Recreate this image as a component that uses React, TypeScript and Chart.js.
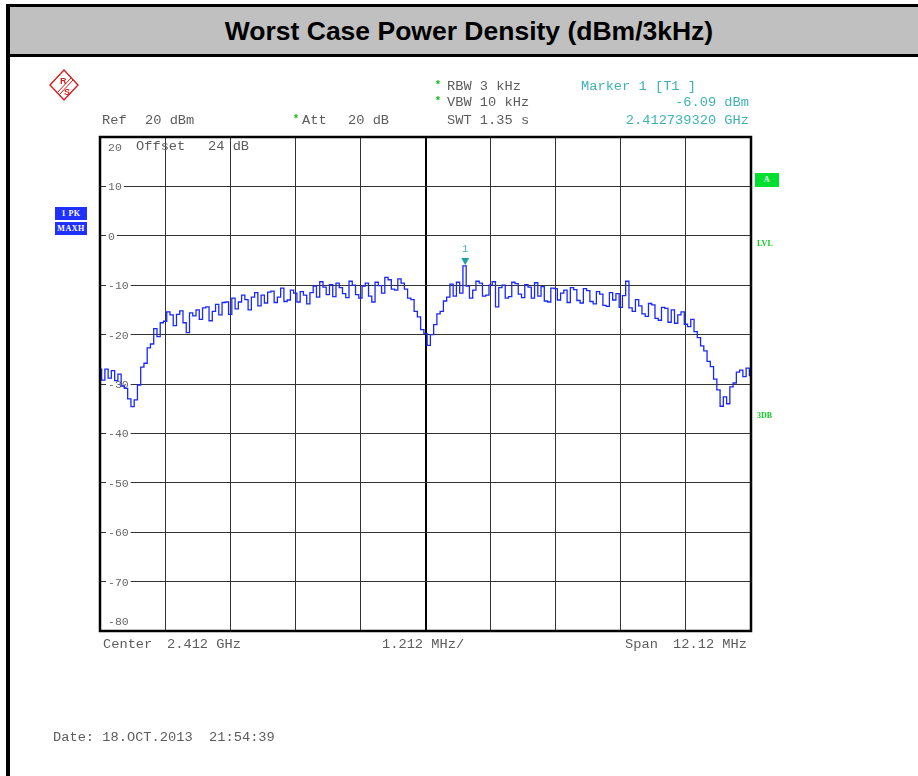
import React, { useEffect, useRef } from "react";
import { Chart, registerables } from "chart.js";

Chart.register(...registerables);

// ---- Data -------------------------------------------------------------
const FREQ_START_MHZ = 2405.94;
const FREQ_STOP_MHZ = 2418.06;
const xGridFreqs = [2405.94, 2407.152, 2408.364, 2409.576, 2410.788, 2412.0, 2413.212, 2414.424, 2415.636, 2416.848, 2418.06];
const CENTER_FREQ_MHZ = 2412.0;
const yTickValues = [20, 10, 0, -10, -20, -30, -40, -50, -60, -70, -80];
const yTickLabels = ["20", "10", "0", "-10", "-20", "-30", "-40", "-50", "-60", "-70", "-80"];
const traceLevels = [
  -27.0, -29.2, -27.0, -28.8, -27.3, -29.3, -28.0, -30.4, -30.9, -33.0,
  -34.6, -33.2, -30.2, -26.6, -25.8, -22.7, -21.9, -18.8, -20.4, -17.6,
  -17.3, -15.4, -16.0, -18.2, -15.9, -15.2, -17.6, -19.6, -15.6, -16.2, -15.0,
  -16.9, -14.6, -14.4, -17.2, -15.3, -13.9, -16.0, -13.5, -13.4, -15.9,
  -12.6, -14.8, -13.4, -12.0, -12.9, -15.0, -12.4, -11.5, -14.2, -12.0,
  -13.6, -11.4, -11.2, -13.5, -12.4, -10.6, -13.3, -13.0, -11.0, -11.6,
  -13.4, -11.3, -12.0, -13.8, -11.5, -10.2, -12.4, -9.3, -10.4, -11.9,
  -9.9, -12.3, -9.6, -10.5, -11.7, -12.5, -9.2, -10.0, -11.9, -12.6,
  -10.2, -9.6, -12.2, -13.4, -9.4, -10.1, -11.6, -8.4, -8.9, -10.8, -11.0, -8.7, -9.6,
  -10.8, -12.6, -12.9, -15.3, -16.4, -19.0, -19.8, -22.2, -20.0,
  -18.0, -15.8, -15.3, -13.2, -12.4, -9.8, -12.2, -9.4, -11.6,
  -6.1,
  -10.2, -12.6, -11.0, -9.2, -9.6, -12.2, -12.0, -10.0, -9.3,
  -14.4, -10.5, -10.0, -12.6, -12.3, -9.4, -9.7, -11.8, -12.5, -9.9, -10.4, -12.6, -9.5, -12.2,
  -10.3, -13.2, -13.4, -10.6, -10.7, -13.0, -11.6, -11.0, -13.5, -10.5, -10.9, -13.1, -13.6, -10.7, -11.1, -13.3,
  -13.8, -11.3, -11.8, -14.1, -14.3, -11.5, -13.0, -11.7, -14.5, -12.1,
  -9.2,
  -14.6, -15.3, -12.9, -14.2, -15.8, -16.3, -13.7, -14.0, -16.7, -17.1, -14.5,
  -14.7, -17.5, -15.0, -17.7, -16.0, -15.4, -17.9, -18.4, -16.9, -19.4,
  -20.6, -22.3, -23.3, -25.4, -26.5, -29.0, -31.2, -34.5, -32.6, -34.0,
  -30.6, -29.8, -27.6, -27.2, -28.5, -26.8, -28.3,
];
const MARKER_FREQ_MHZ = 2412.73932;
const MARKER_LEVEL_DBM = -6.09;

// ---- Styling constants -----------------------------------------------
const MONO = '"Liberation Mono", "Courier New", monospace';
const GREY_TEXT = "#5c5c5c";
const TEAL = "#3fb3b3";
const GREEN = "#11cc22";
const TRACE_BLUE = "rgb(24, 40, 255)";

type TProps = {
  x: number;
  y: number;
  children: React.ReactNode;
  color?: string;
  size?: number;
  right?: boolean;
};

function T({ x, y, children, color = GREY_TEXT, size = 13.7, right = false }: TProps) {
  const style: React.CSSProperties = {
    position: "absolute",
    top: y - 7,
    fontFamily: MONO,
    fontSize: size,
    lineHeight: "14px",
    color,
    whiteSpace: "pre",
  };
  if (right) style.right = 918 - x;
  else style.left = x;
  return <div style={style}>{children}</div>;
}

function Star({ x, y }: { x: number; y: number }) {
  return (
    <div
      style={{
        position: "absolute",
        left: x,
        top: y - 6,
        fontFamily: MONO,
        fontSize: 10,
        lineHeight: "10px",
        color: "#00c800",
        fontWeight: "bold",
      }}
    >
      *
    </div>
  );
}

function Badge({ x, y, w, h, bg, text, color = "#ffffff" }: { x: number; y: number; w: number; h: number; bg: string; text: string; color?: string }) {
  return (
    <div
      style={{
        position: "absolute",
        left: x,
        top: y,
        width: w,
        height: h,
        background: bg,
        color,
        fontFamily: '"Liberation Serif", serif',
        fontWeight: "bold",
        fontSize: 8,
        lineHeight: `${h}px`,
        textAlign: "center",
        letterSpacing: 0.5,
      }}
    >
      {text}
    </div>
  );
}

const overlayPlugin = {
  id: "analyzerOverlay",
  beforeDatasetsDraw(chart: any) {
    const { ctx, chartArea, scales } = chart;
    const y = scales.y;
    ctx.save();
    ctx.font = '11.5px "Liberation Mono", monospace';
    ctx.textBaseline = "middle";
    ctx.textAlign = "left";
    yTickValues.forEach((v, i) => {
      let py = y.getPixelForValue(v);
      if (i === 0) py += 10;
      if (i === yTickValues.length - 1) py -= 10;
      const label = yTickLabels[i];
      const w = ctx.measureText(label).width;
      const lx = chartArea.left + 8;
      if (i !== 0 && i !== yTickValues.length - 1) {
        ctx.fillStyle = "#ffffff";
        ctx.fillRect(lx - 2, py - 5, w + 4, 10);
      }
      ctx.fillStyle = "#666666";
      ctx.fillText(label, lx, py + 1);
    });
    ctx.restore();
  },
  afterDatasetsDraw(chart: any) {
    const { ctx, chartArea, scales } = chart;
    ctx.save();
    // frame
    ctx.strokeStyle = "#000000";
    ctx.lineWidth = 2.5;
    ctx.strokeRect(chartArea.left, chartArea.top, chartArea.right - chartArea.left, chartArea.bottom - chartArea.top);
    // marker
    const mx = scales.x.getPixelForValue(MARKER_FREQ_MHZ);
    const my = scales.y.getPixelForValue(MARKER_LEVEL_DBM);
    ctx.fillStyle = "#1f9f9f";
    ctx.beginPath();
    ctx.moveTo(mx - 4, my - 8);
    ctx.lineTo(mx + 4, my - 8);
    ctx.lineTo(mx, my - 1);
    ctx.closePath();
    ctx.fill();
    ctx.fillStyle = TEAL;
    ctx.font = '10px "Liberation Mono", monospace';
    ctx.textAlign = "center";
    ctx.textBaseline = "middle";
    ctx.fillText("1", mx, my - 17);
    ctx.restore();
  },
};

export default function App() {
  const canvasRef = useRef<HTMLCanvasElement | null>(null);

  useEffect(() => {
    if (!canvasRef.current) return;
    const n = traceLevels.length;
    const points = traceLevels.map((lvl, i) => ({
      x: FREQ_START_MHZ + (i * (FREQ_STOP_MHZ - FREQ_START_MHZ)) / (n - 1),
      y: lvl,
    }));
    const chart = new Chart(canvasRef.current, {
      type: "line",
      data: {
        datasets: [
          {
            data: points,
            borderColor: TRACE_BLUE,
            borderWidth: 1.3,
            pointRadius: 0,
            fill: false,
            stepped: "middle",
          },
        ],
      },
      options: {
        animation: false,
        responsive: false,
        maintainAspectRatio: false,
        devicePixelRatio: 1,
        events: [],
        layout: { padding: { left: 100, top: 137, right: 167, bottom: 145 } },
        plugins: { legend: { display: false }, tooltip: { enabled: false } },
        scales: {
          x: {
            type: "linear",
            min: FREQ_START_MHZ,
            max: FREQ_STOP_MHZ,
            afterBuildTicks: (scale: any) => {
              scale.ticks = xGridFreqs.map((v) => ({ value: v }));
            },
            ticks: { display: false },
            border: { display: false },
            grid: {
              drawTicks: false,
              color: (c: any) => (Math.abs(c.tick.value - CENTER_FREQ_MHZ) < 1e-6 ? "#000000" : "#333333"),
              lineWidth: (c: any) => (Math.abs(c.tick.value - CENTER_FREQ_MHZ) < 1e-6 ? 2 : 1),
            },
          },
          y: {
            type: "linear",
            min: -80,
            max: 20,
            afterBuildTicks: (scale: any) => {
              scale.ticks = yTickValues.map((v) => ({ value: v }));
            },
            ticks: { display: false },
            border: { display: false },
            grid: { drawTicks: false, color: "#333333", lineWidth: 1 },
          },
        },
      },
      plugins: [overlayPlugin],
    });
    return () => chart.destroy();
  }, []);

  return (
    <div
      style={{
        position: "fixed",
        left: 0,
        top: 0,
        width: 918,
        height: 776,
        background: "#ffffff",
        overflow: "hidden",
      }}
    >
      <canvas ref={canvasRef} width={918} height={776} style={{ position: "absolute", left: 0, top: 0, width: 918, height: 776 }} />

      {/* outer frame and title bar */}
      <div style={{ position: "absolute", left: 6, top: 4, width: 4, height: 772, background: "#000" }} />
      <div style={{ position: "absolute", left: 6, top: 4, width: 912, height: 3, background: "#000" }} />
      <div
        style={{
          position: "absolute",
          left: 10,
          top: 7,
          width: 908,
          height: 47,
          background: "#c0c0c0",
          display: "flex",
          alignItems: "center",
          justifyContent: "center",
        }}
      >
        <div
          style={{
            fontFamily: '"Liberation Sans", Arial, sans-serif',
            fontWeight: "bold",
            fontSize: 26.5,
            color: "#000",
            marginLeft: 10,
            marginTop: 2,
          }}
        >
          Worst Case Power Density (dBm/3kHz)
        </div>
      </div>
      <div style={{ position: "absolute", left: 6, top: 54, width: 912, height: 3, background: "#000" }} />

      {/* R&S logo */}
      <svg style={{ position: "absolute", left: 48, top: 69 }} width={32} height={33} viewBox="0 0 32 33">
        <polygon points="16,1 30,16 16,31 2,16" fill="none" stroke="#cc2020" strokeWidth={1.4} />
        <line x1="9" y1="24" x2="23" y2="9" stroke="#cc2020" strokeWidth={1} />
        <line x1="11" y1="26" x2="25" y2="11" stroke="#cc2020" strokeWidth={1} />
        <text x="12" y="15" fontSize="9" fontFamily="Liberation Sans" fontWeight="bold" fill="#cc2020">R</text>
        <text x="16" y="26" fontSize="9" fontFamily="Liberation Sans" fontWeight="bold" fill="#cc2020">S</text>
      </svg>

      {/* header settings */}
      <Star x={435} y={87} />
      <T x={447} y={87}>RBW 3 kHz</T>
      <Star x={435} y={103} />
      <T x={447} y={103}>VBW 10 kHz</T>
      <T x={447} y={121}>SWT 1.35 s</T>

      <T x={581} y={87} color={TEAL}>Marker 1 [T1 ]</T>
      <T x={749} y={103} color={TEAL} right>-6.09 dBm</T>
      <T x={749} y={121} color={TEAL} right>2.412739320 GHz</T>

      <T x={102} y={121}>Ref</T>
      <T x={145} y={121}>20 dBm</T>
      <Star x={293} y={121} />
      <T x={302} y={121}>Att</T>
      <T x={348} y={121}>20 dB</T>

      <T x={136} y={147}>Offset</T>
      <T x={208} y={147}>24 dB</T>

      {/* trace badges */}
      <Badge x={55} y={207} w={32} h={13} bg="#2030ff" text="1 PK" />
      <Badge x={55} y={222} w={32} h={13} bg="#2030ff" text="MAXH" />
      <Badge x={755} y={173} w={24} h={14} bg="#00e030" text="A" />
      <div style={{ position: "absolute", left: 757, top: 239, fontFamily: '"Liberation Serif", serif', fontWeight: "bold", fontSize: 8, color: GREEN, lineHeight: "10px" }}>LVL</div>
      <div style={{ position: "absolute", left: 757, top: 411, fontFamily: '"Liberation Serif", serif', fontWeight: "bold", fontSize: 8, color: GREEN, lineHeight: "10px" }}>3DB</div>

      {/* footer */}
      <T x={103} y={645}>Center</T>
      <T x={167} y={645}>2.412 GHz</T>
      <T x={382} y={645}>1.212 MHz/</T>
      <T x={625} y={645}>Span</T>
      <T x={747} y={645} right>12.12 MHz</T>

      <T x={53} y={738}>Date: 18.OCT.2013  21:54:39</T>
    </div>
  );
}
